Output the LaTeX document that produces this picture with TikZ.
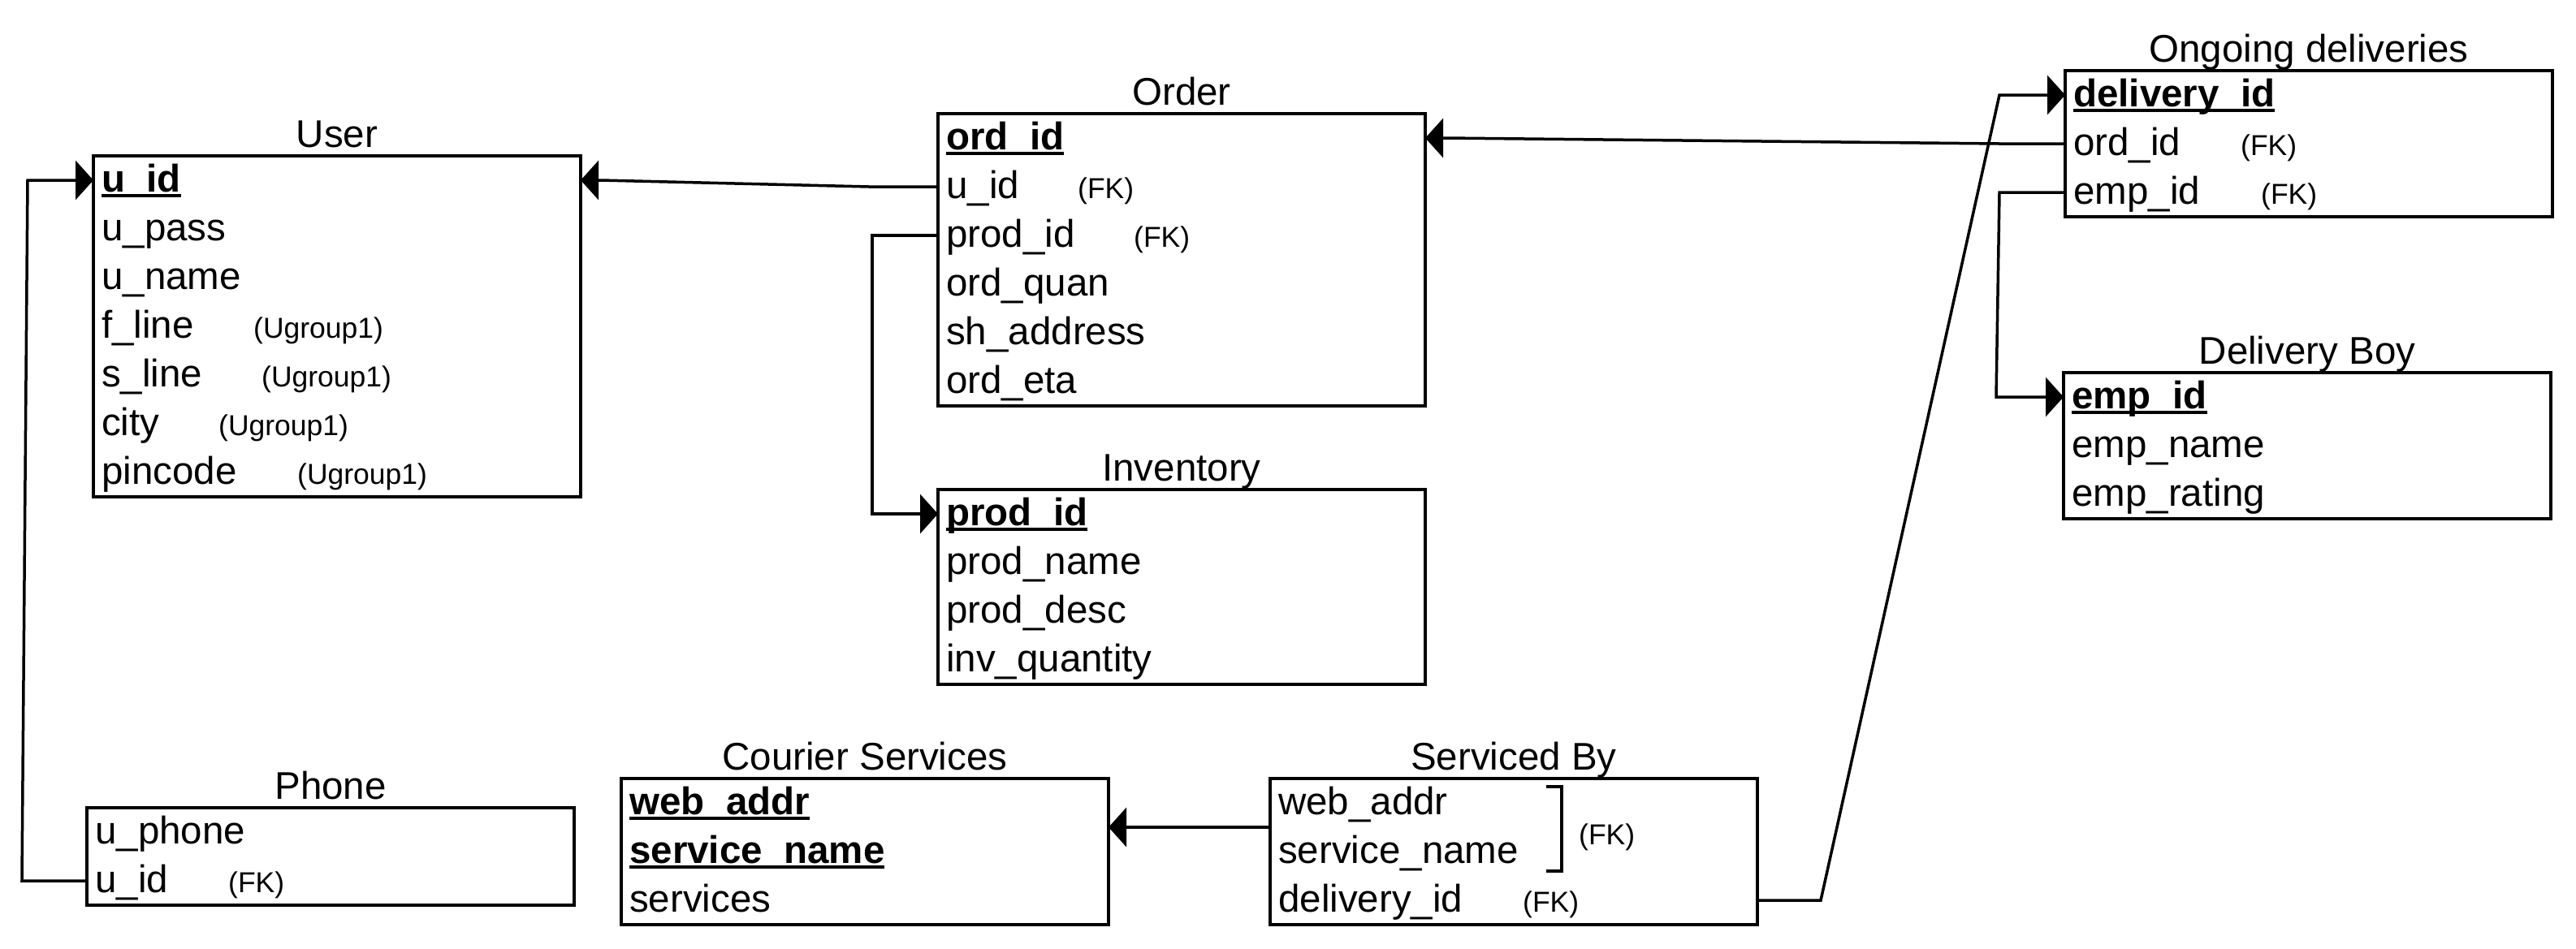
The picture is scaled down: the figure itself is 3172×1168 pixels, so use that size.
\documentclass[tikz,border=0pt]{standalone}
\usepackage{fontspec}
\setmainfont{Liberation Sans}
\usetikzlibrary{arrows.meta,calc}
\newcommand\mypk[1]{\setbox0\hbox{\bfseries #1}\rlap{\vrule width\wd0 height -3pt depth 7pt}\box0}
\tikzset{
  box/.style={draw, line width=4pt, rectangle, minimum width=600pt, inner sep=0pt, outer sep=0pt, anchor=north west},
  ttl/.style={inner sep=0pt, anchor=base, font=\fontsize{47.5}{57}\selectfont},
  rowtxt/.style={inner sep=0pt, anchor=base west, font=\fontsize{47.5}{57}\selectfont},
  fk/.style={inner sep=0pt, anchor=base west, font=\fontsize{35.5}{42}\selectfont},
  conn/.style={line width=3.5pt, -{Triangle[length=22pt,width=48pt]}},
  link/.style={line width=3.5pt},
}
\newcommand\mktable[5]{%
  \node[box, minimum height={#4*60pt}] (#1) at (#2,#3) {};
  \node[ttl] (#1-title) at ([yshift=11pt]#1.north) {#5};
}
\newcommand\mkrow[3]{%
  \node[rowtxt] (#1-#2) at ([xshift=10pt,yshift={-(44+60*(#2-1))*1pt}]#1.north west) {#3};
  \coordinate (#1-L#2) at ([yshift={-(30+60*(#2-1))*1pt}]#1.north west);
  \coordinate (#1-R#2) at ([yshift={-(30+60*(#2-1))*1pt}]#1.north east);
}
\begin{document}
\begin{tikzpicture}[x=1pt,y=-1pt]
\useasboundingbox (0,0) rectangle (3172,1168);

% User
\mktable{user}{115}{192}{7}{User}
\mkrow{user}{1}{\mypk{u\_id}}
\mkrow{user}{2}{u\_pass}
\mkrow{user}{3}{u\_name}
\mkrow{user}{4}{f\_line}
\mkrow{user}{5}{s\_line}
\mkrow{user}{6}{city}
\mkrow{user}{7}{pincode}
\node[fk] (user-fk4) at (312,0 |- user-4.base) {(Ugroup1)};
\node[fk] (user-fk5) at (322,0 |- user-5.base) {(Ugroup1)};
\node[fk] (user-fk6) at (269,0 |- user-6.base) {(Ugroup1)};
\node[fk] (user-fk7) at (366,0 |- user-7.base) {(Ugroup1)};

% Order
\mktable{order}{1155}{140}{6}{Order}
\mkrow{order}{1}{\mypk{ord\_id}}
\mkrow{order}{2}{u\_id}
\mkrow{order}{3}{prod\_id}
\mkrow{order}{4}{ord\_quan}
\mkrow{order}{5}{sh\_address}
\mkrow{order}{6}{ord\_eta}
\node[fk] (order-fk2) at (1327,0 |- order-2.base) {(FK)};
\node[fk] (order-fk3) at (1396,0 |- order-3.base) {(FK)};

% Inventory
\mktable{inventory}{1155}{603}{4}{Inventory}
\mkrow{inventory}{1}{\mypk{prod\_id}}
\mkrow{inventory}{2}{prod\_name}
\mkrow{inventory}{3}{prod\_desc}
\mkrow{inventory}{4}{inv\_quantity}

% Ongoing deliveries
\mktable{ong}{2543}{87}{3}{Ongoing deliveries}
\mkrow{ong}{1}{\mypk{delivery\_id}}
\mkrow{ong}{2}{ord\_id}
\mkrow{ong}{3}{emp\_id}
\node[fk] (ong-fk2) at (2759,0 |- ong-2.base) {(FK)};
\node[fk] (ong-fk3) at (2784,0 |- ong-3.base) {(FK)};

% Delivery Boy
\mktable{dboy}{2541}{459}{3}{Delivery Boy}
\mkrow{dboy}{1}{\mypk{emp\_id}}
\mkrow{dboy}{2}{emp\_name}
\mkrow{dboy}{3}{emp\_rating}

% Phone
\mktable{phone}{107}{995}{2}{Phone}
\mkrow{phone}{1}{u\_phone}
\mkrow{phone}{2}{u\_id}
\node[fk] (phone-fk2) at (281,0 |- phone-2.base) {(FK)};

% Courier Services
\mktable{courier}{765}{959}{3}{Courier Services}
\mkrow{courier}{1}{\mypk{web\_addr}}
\mkrow{courier}{2}{\mypk{service\_name}}
\mkrow{courier}{3}{services}

% Serviced By
\mktable{serv}{1564}{959}{3}{Serviced By}
\mkrow{serv}{1}{web\_addr}
\mkrow{serv}{2}{service\_name}
\mkrow{serv}{3}{delivery\_id}
\node[fk] (serv-fk3) at (1875,0 |- serv-3.base) {(FK)};
\draw[link] (1904,969) -- (1923,969) -- (1923,1073) -- (1904,1073);
\node[fk] (serv-fk12) at (1944,1040) {(FK)};

% Connectors
\draw[conn] (order-L2) -- ++(-85,0) -- ([xshift=25pt]user-R1) -- (user-R1);
\draw[conn] (order-L3) -- ++(-81,0) |- (inventory-L1);
\draw[conn] (phone-L2) -- ++(-80,0) -- ([xshift=-81pt]user-L1) -- (user-L1);
\draw[conn] (ong-L2) -- ++(-81,0) -- ([xshift=25pt]order-R1) -- (order-R1);
\draw[conn] (ong-L3) -- ++(-81,0) -- ([xshift=-83pt]dboy-L1) -- (dboy-L1);
\draw[conn] (serv-R3) -- ++(78,0) -- ([xshift=-81pt]ong-L1) -- (ong-L1);
\coordinate (sm) at ($(serv-L1)!.5!(serv-L2)$);
\draw[conn] (sm) -- (sm -| courier.east);
\end{tikzpicture}
\end{document}
